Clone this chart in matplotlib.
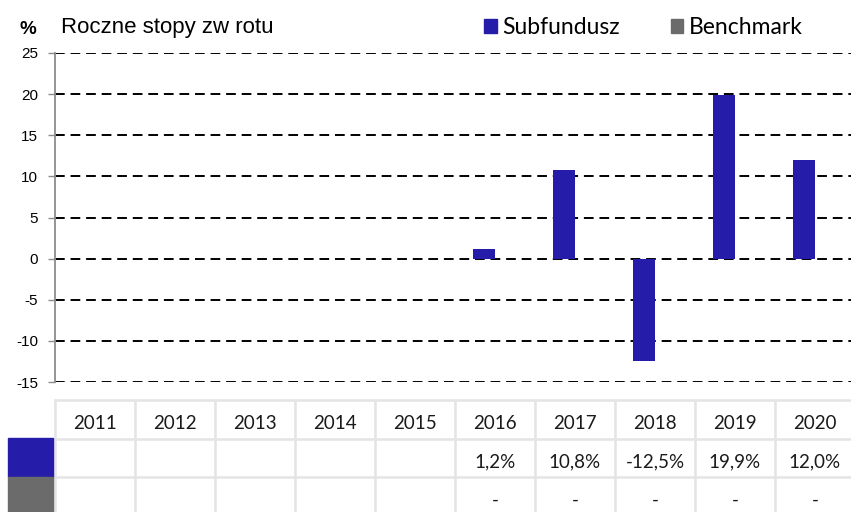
import matplotlib
matplotlib.use("Agg")
import matplotlib.pyplot as plt
from matplotlib.patches import Patch, Rectangle

plt.rcParams["axes.unicode_minus"] = False

# data
years = ["2011", "2012", "2013", "2014", "2015", "2016", "2017", "2018", "2019", "2020"]
subfundusz = [None, None, None, None, None, 1.2, 10.8, -12.5, 19.9, 12.0]
benchmark = [None] * 10
sub_labels = ["", "", "", "", "", "1,2%", "10,8%", "-12,5%", "19,9%", "12,0%"]
bench_labels = ["", "", "", "", "", "-", "-", "-", "-", "-"]
yticks = [-15, -10, -5, 0, 5, 10, 15, 20, 25]

BLUE = "#251daa"
GREY = "#6b6b6b"
W, H = 851, 512

fig = plt.figure(figsize=(W / 100, H / 100), dpi=100)

# chart area (px -> figure fraction)
x0, x1 = 55, 855
ax = fig.add_axes([x0 / W, 1 - 382 / H, (x1 - x0) / W, (382 - 53) / H])

xs = list(range(len(years)))
bw = 0.275
sx = [x - bw / 2 for x, v in zip(xs, subfundusz) if v is not None]
sv = [v for v in subfundusz if v is not None]
ax.bar(sx, sv, width=bw, color=BLUE, zorder=3)
bx = [x + bw / 2 for x, v in zip(xs, benchmark) if v is not None]
bv = [v for v in benchmark if v is not None]
ax.bar(bx, bv, width=bw, color=GREY, zorder=3)

ax.set_xlim(-0.5, len(years) - 0.5)
ax.set_ylim(-15, 25)
ax.set_yticks(yticks)
ax.set_xticks([])
for t in yticks:
    ax.axhline(t, color="black", lw=1.4, linestyle=(0, (5, 3)), zorder=1)
for s in ["top", "right", "bottom"]:
    ax.spines[s].set_visible(False)
ax.spines["left"].set_color("#8c8c8c")
ax.spines["left"].set_linewidth(1.3)
ax.tick_params(axis="y", length=5, width=1, color="#8c8c8c", pad=7,
               labelsize=11)
for lab in ax.get_yticklabels():
    lab.set_fontfamily("Liberation Sans")

fig.text(20 / W, 1 - 30 / H, "%", fontsize=13.5, fontweight="bold",
         family="Liberation Sans", va="center", ha="left")
fig.text(61 / W, 1 - 27 / H, "Roczne stopy zw rotu", fontsize=16,
         family="Liberation Sans", va="center", ha="left")

leg = fig.legend(handles=[Patch(color=BLUE, label="Subfundusz"),
                          Patch(color=GREY, label="Benchmark")],
                 loc="center left", bbox_to_anchor=(482 / W, 1 - 28 / H),
                 ncol=2, frameon=False, handlelength=0.55, handleheight=0.55,
                 handletextpad=0.25, columnspacing=2.2, borderpad=0.1,
                 borderaxespad=0,
                 prop={"family": "Lato", "size": 16.5})

# table under the chart
tab = fig.add_axes([x0 / W, 1 - 516 / H, (x1 - x0) / W, (516 - 400) / H])
tab.set_xlim(-0.5, len(years) - 0.5)
tab.set_ylim(3, 0)
tab.axis("off")
lc = "#e4e4e4"
for i in range(len(years) + 1):
    tab.plot([i - 0.5, i - 0.5], [0, 3], color=lc, lw=1.8, clip_on=False)
for r in range(4):
    tab.plot([-0.5, len(years) - 0.5], [r, r], color=lc, lw=1.8, clip_on=False)
rows = [years, sub_labels, bench_labels]
for r, row in enumerate(rows):
    for i, txt in enumerate(row):
        tab.text(i, r + 0.6, txt, ha="center", va="center", fontsize=13.5,
                 family="Lato", color="#1a1a1a")

# colour keys of table rows
fig.add_artist(Rectangle((8 / W, 1 - 477 / H), 45 / W, 39 / H,
                         transform=fig.transFigure, color=BLUE))
fig.add_artist(Rectangle((8 / W, 0), 45 / W, 35 / H,
                         transform=fig.transFigure, color=GREY))

fig.savefig("out.png", dpi=100)
